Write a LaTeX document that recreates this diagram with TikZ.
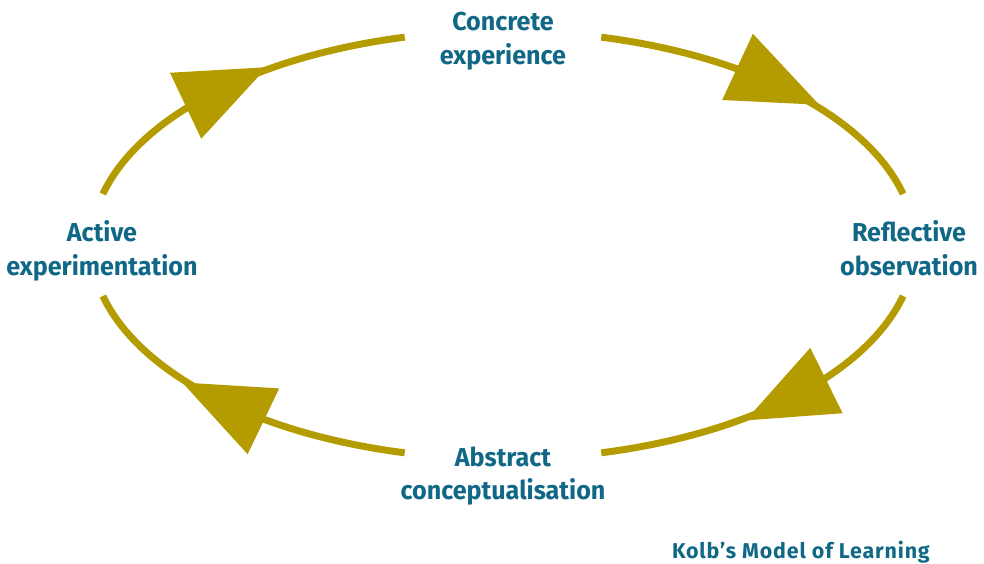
\documentclass[tikz,border=0pt]{standalone}
\usepackage{fontspec}
\usepackage{tikz}
\usetikzlibrary{positioning, arrows.meta, decorations.markings}
\usepackage{xcolor}
\newfontfamily\kolbfont{Fira Sans}[FakeStretch=0.97]
\newfontfamily\captionfont{Fira Sans}[LetterSpace=4]
\definecolor{kolbgold}{HTML}{B49C00}
\definecolor{kolbteal}{HTML}{106886}
\tikzstyle{stage} = [align=center, text=kolbteal, inner sep=0pt, font=\kolbfont\bfseries\fontsize{26}{34}\selectfont]
\tikzstyle{caption} = [text=kolbteal, inner sep=0pt, font=\captionfont\bfseries\fontsize{21.5}{25}\selectfont]
\tikzstyle{cyclearc} = [line width=7, draw=kolbgold]
\tikzset{midarrow/.style={postaction={decorate, decoration={markings,
    mark=at position #1 with {\arrow[xshift=46bp]{Triangle[length=90bp, width=73bp, line width=0pt]}}}}}}

\begin{document}
\begin{tikzpicture}[x=1bp, y=1bp]
    \useasboundingbox (-503,-319) rectangle (481,245);

        % Nodes
        \node (ce) [stage] at (0,204) {Concrete\\experience};
        \node (ro) [stage] at (406,-3.5) {Reflective\\observation};
        \node (ac) [stage] at (0,-231) {Abstract\\conceptualisation};
        \node (ae) [stage] at (-401,-6) {Active\\experimentation};
        \node (title) [caption, anchor=base east] at (427,-314) {Kolb’s Model of Learning};

        % Arc ends on the cycle
        \coordinate (ae-top) at (166.2:412 and 214);
        \coordinate (ce-right) at (76.2:412 and 214);
        \coordinate (ro-bottom) at (-13.8:412 and 214);
        \coordinate (ac-left) at (-103.8:412 and 214);

        % Arrows
        \draw [cyclearc, midarrow=0.47] (ae-top) arc[start angle=166.2, end angle=103.8, x radius=412, y radius=214];
        \draw [cyclearc, midarrow=0.52] (ce-right) arc[start angle=76.2, end angle=13.8, x radius=412, y radius=214];
        \draw [cyclearc, midarrow=0.45] (ro-bottom) arc[start angle=-13.8, end angle=-76.2, x radius=412, y radius=214];
        \draw [cyclearc, midarrow=0.535] (ac-left) arc[start angle=-103.8, end angle=-166.2, x radius=412, y radius=214];

    \end{tikzpicture}
\end{document}
